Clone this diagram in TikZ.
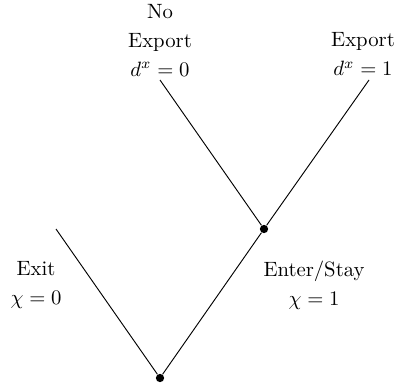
\documentclass[tikz,border=0pt]{standalone}
\begin{document}
\begin{tikzpicture}[x=0.4831pt,y=-0.4831pt,
  lbl/.style={align=center,inner sep=0pt,font=\fontsize{10}{14}\selectfont},
  dotnode/.style={circle,fill=black,inner sep=0pt,minimum size=4pt},
  ln/.style={line width=0.45pt}]
\useasboundingbox (0,0) rectangle (398,387);
\node[dotnode] (root) at (160,378) {};
\node[dotnode] (mid) at (264,229) {};
\coordinate (exitend) at (56,229);
\coordinate (noexp) at (160,80);
\coordinate (exp) at (369,80);
\draw[ln] (root) -- (exitend);
\draw[ln] (root) -- (mid);
\draw[ln] (mid) -- (noexp);
\draw[ln] (mid) -- (exp);
\node[lbl] (lnoexp) at (160,40) {No\\Export\\$d^x=0$};
\node[lbl] (lexp) at (363,54) {Export\\$d^x=1$};
\node[lbl] (lexit) at (36,285) {Exit\\$\chi=0$};
\node[lbl] (lenter) at (314,285) {Enter/Stay\\$\chi=1$};
\end{tikzpicture}
\end{document}
